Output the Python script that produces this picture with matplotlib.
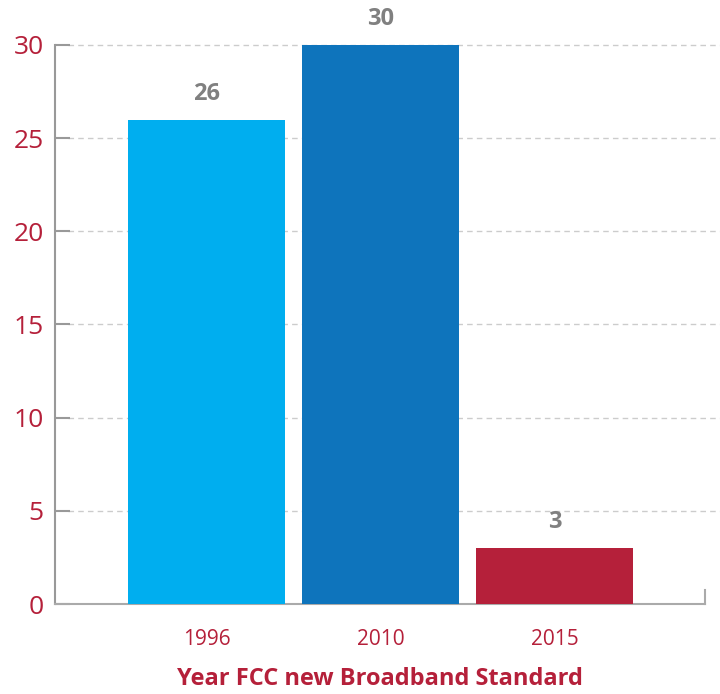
import matplotlib.pyplot as plt

years = ['1996', '2010', '2015']
speeds = [26, 30, 3]
bar_colors = ['#00aeef', '#0e74bc', '#b5203a']
y_ticks = [0, 5, 10, 15, 20, 25, 30]

red = '#b5203a'
gray = '#808080'

plt.rcParams['font.family'] = ['Open Sans', 'DejaVu Sans']

fig = plt.figure(figsize=(7.2, 6.94), dpi=100)
ax = fig.add_axes([55 / 720, 1 - 604 / 694, 650 / 720, (604 - 45) / 694])

x = range(len(years))
bars = ax.bar(x, speeds, width=0.9, color=bar_colors, zorder=3)

for xi, v in zip(x, speeds):
    ax.annotate(str(v), xy=(xi, v), xytext=(0, 10), textcoords='offset points',
                ha='center', va='bottom', fontsize=17, fontweight='bold',
                color=gray, annotation_clip=False)

# dashed grid, running a bit past the axes on the right
for t in y_ticks[1:]:
    ax.axhline(t, xmin=0.02, xmax=1.025, color='#cccccc', linestyle=(0, (4, 3)),
               linewidth=1, clip_on=False, zorder=1)

ax.set_xlim(-0.871, 2.865)
ax.set_ylim(0, 30)
ax.set_yticks(y_ticks)
ax.set_xticks(list(x))
ax.set_xticklabels(years)

ax.tick_params(axis='y', direction='in', length=11, width=1.5, color='#999999',
               labelsize=19, labelcolor=red, pad=8)
ax.tick_params(axis='x', length=0, labelsize=15, labelcolor=red, pad=18)

for s in ['top', 'right']:
    ax.spines[s].set_visible(False)
ax.spines['left'].set_color('#999999')
ax.spines['left'].set_linewidth(1.5)
ax.spines['bottom'].set_color('#aaaaaa')
ax.spines['bottom'].set_linewidth(1.5)
ax.plot([1, 1], [0, 0.025], transform=ax.transAxes, color='#aaaaaa',
        linewidth=1.5, clip_on=False)

ax.set_xlabel('Year FCC new Broadband Standard', fontsize=17, fontweight='bold',
              color=red, labelpad=12)

fig.savefig('out.png', dpi=100)
